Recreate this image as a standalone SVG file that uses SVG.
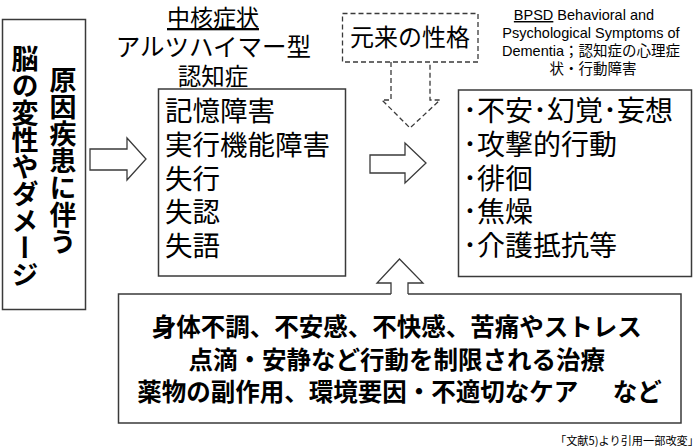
<svg xmlns="http://www.w3.org/2000/svg" width="700" height="447" viewBox="0 0 700 447">
<defs>
<style>
.box{fill:#fff;stroke:#3a3a3a;stroke-width:1.5}
.arr{fill:#fff;stroke:#3a3a3a;stroke-width:1.3;stroke-linejoin:miter}
.dash{fill:#fff;stroke:#3a3a3a;stroke-width:1.3;stroke-dasharray:5,3}
.jp{font-family:"Noto Sans CJK JP","Noto Sans",sans-serif;fill:#000}
.en{font-family:"Liberation Sans","Noto Sans CJK JP",sans-serif;fill:#000}
.b{font-weight:bold}
</style>
</defs>
<rect width="700" height="447" fill="#fff"/>

<g id="connectors">
<path class="arr" d="M90,149 H127 V138 L146,159 L127,180 V170 H90 Z"/>
<path class="arr" d="M370,155 H405 V143 L426,163 L405,183 V173 H370 Z"/>
<path class="arr" d="M391,294 V283 H377 L399.5,259 L423,283 H408 V294"/>
<path class="dash" d="M391,62 V100 H382 L410,128 L440,100 H430 V62"/>
</g>

<g id="node-cause">
<rect class="box" x="2.5" y="19.5" width="83" height="290"/>
<text class="jp b" x="63" y="66" font-size="27" style="writing-mode:vertical-rl">原因疾患に伴う</text>
<text class="jp b" x="25" y="45" font-size="27" style="writing-mode:vertical-rl">脳の変性やダメージ</text>
</g>

<g id="node-core-title">
<text class="jp" x="213" y="26" font-size="23" text-anchor="middle" text-decoration="underline">中核症状</text>
<text class="jp" x="213.5" y="56" font-size="24.5" text-anchor="middle">アルツハイマー型</text>
<text class="jp" x="213" y="85" font-size="23.5" text-anchor="middle">認知症</text>
</g>

<g id="node-core">
<rect class="box" x="158.5" y="89" width="187" height="187"/>
<text class="jp" font-size="27.5">
<tspan x="165" y="121">記憶障害</tspan>
<tspan x="165" y="155">実行機能障害</tspan>
<tspan x="165" y="189">失行</tspan>
<tspan x="165" y="222">失認</tspan>
<tspan x="165" y="256">失語</tspan>
</text>
</g>

<g id="node-personality">
<rect class="dash" x="342.5" y="13.5" width="135.5" height="48.5"/>
<text class="jp" x="410" y="45.5" font-size="24" text-anchor="middle">元来の性格</text>
</g>

<g id="node-bpsd-title">
<text class="en" font-size="14.5" text-anchor="middle">
<tspan x="586" y="20"><tspan text-decoration="underline">BPSD</tspan> Behavioral and</tspan>
<tspan x="593" y="38">Psychological Symptoms of</tspan>
<tspan x="593" y="56">Dementia；認知症の心理症</tspan>
<tspan x="593" y="74">状・行動障害</tspan>
</text>
</g>

<g id="node-bpsd">
<rect class="box" x="458.5" y="90" width="233" height="186.5"/>
<text class="jp" font-size="28">
<tspan x="463" y="121">･不安･幻覚･妄想</tspan>
<tspan x="463" y="155">･攻撃的行動</tspan>
<tspan x="463" y="189">･徘徊</tspan>
<tspan x="463" y="222">･焦燥</tspan>
<tspan x="463" y="256">･介護抵抗等</tspan>
</text>
</g>

<g id="node-factors">
<path class="box" d="M391,294 H118.5 V423 H681 V294 H408"/>
<text class="jp b" font-size="24.5" text-anchor="middle">
<tspan x="399.5" y="336">身体不調、不安感、不快感、苦痛やストレス</tspan>
<tspan x="399.5" y="369">点滴・安静など行動を制限される治療</tspan>
<tspan x="399.5" y="401">薬物の副作用、環境要因・不適切なケア<tspan dx="10">　など</tspan></tspan>
</text>
</g>

<g id="caption">
<text class="jp" x="699" y="445" font-size="11.2" text-anchor="end">「文献5)より引用一部改変」</text>
</g>
</svg>
